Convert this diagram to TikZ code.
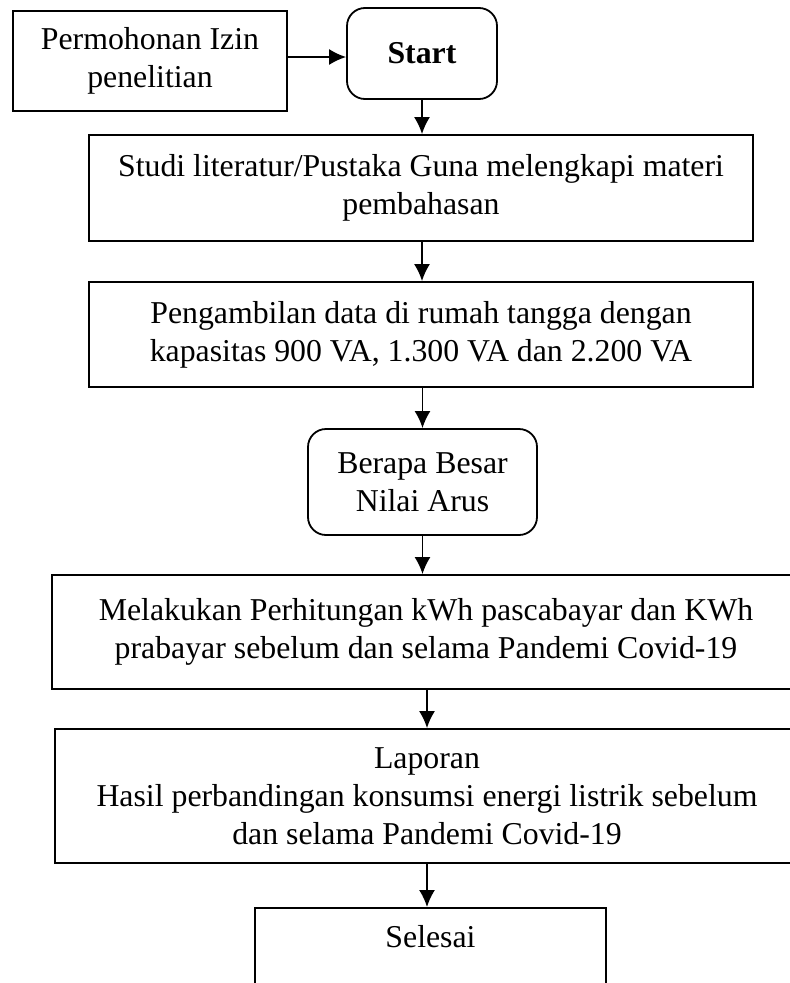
\documentclass[tikz,border=0pt]{standalone}
\usepackage{fontspec}
\setmainfont{Liberation Serif}
\usetikzlibrary{arrows.meta}

\begin{document}
\begin{tikzpicture}[x=1pt, y=1pt,
    box/.style={draw, line width=1.8pt, align=center, inner sep=0pt,
        font=\fontsize{31.8}{38}\selectfont},
    roundbox/.style={box, rounded corners=18pt},
    arr/.style={line width=1.8pt, -{Latex[length=17pt, width=16pt]}}]
    \useasboundingbox (0,0) rectangle (790,-983);
    \clip (0,0) rectangle (790,-983);
    % permohonan izin
    \node[box, minimum width=274, minimum height=100] (izin) at (150,-61)
        {Permohonan Izin\\penelitian};
    % start
    \node[roundbox, minimum width=150, minimum height=91] (start) at (422,-53.5)
        {\textbf{Start}};
    % studi literatur
    \node[box, minimum width=664, minimum height=106] (studi) at (421,-188)
        {Studi literatur/Pustaka Guna melengkapi materi\\pembahasan};
    % pengambilan data
    \node[box, minimum width=664, minimum height=105] (data) at (421,-334.5)
        {Pengambilan data di rumah tangga dengan\\kapasitas 900 VA, 1.300 VA dan 2.200 VA};
    % nilai arus
    \node[roundbox, minimum width=229, minimum height=106] (arus) at (422.5,-482)
        {Berapa Besar\\Nilai Arus};
    % perhitungan kwh
    \node[box, minimum width=748, minimum height=114] (hitung) at (426,-632)
        {Melakukan Perhitungan kWh pascabayar dan KWh\\prabayar sebelum dan selama Pandemi Covid-19};
    % laporan
    \node[box, minimum width=744, minimum height=134] (laporan) at (427,-796)
        {Laporan\\Hasil perbandingan konsumsi energi listrik sebelum\\dan selama Pandemi Covid-19};
    % selesai
    \node[box, minimum width=351, inner ysep=18pt, text depth=80pt, anchor=north] (selesai)
        at (430.5,-907) {Selesai};
    % arrows
    \draw[arr] ([yshift=4pt]izin.east) -- ([yshift=-3.5pt]start.west);
    \draw[arr] (start.south) -- (start.south |- studi.north);
    \draw[arr] (studi.south -| start.south) -- (start.south |- data.north);
    \draw[arr] (data.south -| arus.north) -- (arus.north);
    \draw[arr] (arus.south) -- (arus.south |- hitung.north);
    \draw[arr] (hitung.south -| laporan.north) -- (laporan.north);
    \draw[arr] (laporan.south) -- (laporan.south |- selesai.north);
\end{tikzpicture}
\end{document}
